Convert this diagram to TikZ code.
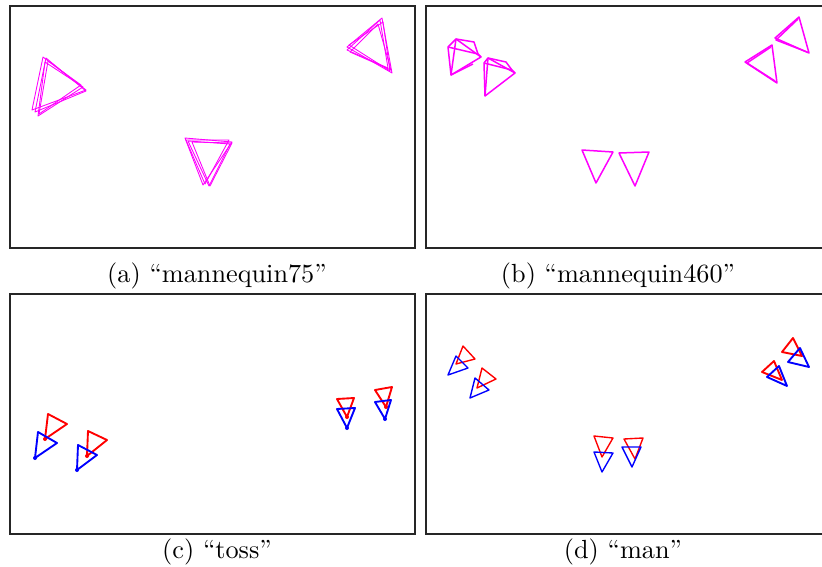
\documentclass[tikz,border=0pt]{standalone}
\usepackage{tikz}
\usetikzlibrary{positioning}
\definecolor{poseMag}{RGB}{255,0,255}
\definecolor{poseRed}{RGB}{255,0,0}
\definecolor{poseBlue}{RGB}{0,0,255}

\begin{document}
\begin{tikzpicture}[
    x=0.4pt, y=-0.4pt,
    font=\fontsize{10.5}{12}\selectfont,
    panel/.style={draw=black!85, line width=0.55pt},
    thincam/.style={draw=poseMag, line width=0.35pt, line join=round},
    camb/.style={draw=poseMag, line width=0.6pt, line join=round},
    truecam/.style={draw=poseBlue, line width=0.75pt, line join=round},
    estcam/.style={draw=poseRed, line width=0.75pt, line join=round},
    centre/.style={circle, fill, inner sep=0pt, minimum size=1.6pt},
    subcap/.style={inner sep=0pt, anchor=center}
]
\clip (0,0) rectangle (822,567);
\fill[white] (0,0) rectangle (822,567);

% frames
\draw[panel] (10,6) rectangle (415,248);
\draw[panel] (426,6) rectangle (840,248);
\draw[panel] (10,294) rectangle (415,534);
\draw[panel] (426,294) rectangle (840,534);

% (a) mannequin75
\draw[thincam] (43,57) -- (86,90) -- (32,110) -- cycle;
\draw[thincam] (46,58) -- (86,91) -- (35,112) -- cycle;
\draw[thincam] (45,62) -- (83,87) -- (38,116) -- cycle;
\draw[thincam] (48,61) -- (81,85) -- (39,114) -- cycle;
\draw[thincam] (382,18) -- (347,47) -- (392,73) -- cycle;
\draw[thincam] (380,20) -- (347,50) -- (388,68) -- cycle;
\draw[thincam] (383,22) -- (349,45) -- (390,71) -- cycle;
\draw[thincam] (378,24) -- (350,52) -- (391,70) -- cycle;
\draw[thincam] (185,138) -- (232,142) -- (203,185) -- cycle;
\draw[thincam] (188,141) -- (230,144) -- (209,186) -- cycle;
\draw[thincam] (186,140) -- (229,140) -- (205,184) -- cycle;
\draw[thincam] (192,142) -- (232,143) -- (210,186) -- cycle;

% (b) mannequin460
\draw[camb] (456,39) -- (448,47) -- (451,75) -- (481,57) -- cycle;
\draw[camb] (456,39) -- (474,42) -- (478,54) -- (481,57);
\draw[camb] (448,47) -- (478,54);
\draw[camb] (456,39) -- (451,75);
\draw[camb] (451,75) -- (473,64);
\draw[camb] (488,58) -- (484,63) -- (485,96) -- (515,73) -- cycle;
\draw[camb] (488,58) -- (506,62) -- (512,70) -- (515,73);
\draw[camb] (484,63) -- (512,70);
\draw[camb] (488,58) -- (485,96);
\draw[camb] (799,17) -- (775,38) -- (809,53) -- cycle;
\draw[camb] (798,19) -- (776,40) -- (807,52);
\draw[camb] (772,45) -- (745,62) -- (777,83) -- cycle;
\draw[camb] (771,47) -- (747,63) -- (775,81);
\draw[camb] (582,150) -- (613,152) -- (596,183) -- cycle;
\draw[camb] (619,153) -- (649,152) -- (635,186) -- cycle;

% (c) toss
\draw[estcam] (48,414) -- (67,424) -- (45,439) -- cycle;
\node[centre, poseRed] (c1r) at (45,439) {};
\draw[truecam] (38,432) -- (57,443) -- (35,458) -- cycle;
\node[centre, poseBlue] (c1b) at (35,458) {};
\draw[estcam] (88,431) -- (107,440) -- (87,456) -- cycle;
\node[centre, poseRed] (c2r) at (87,456) {};
\draw[truecam] (78,445) -- (97,455) -- (77,470) -- cycle;
\node[centre, poseBlue] (c2b) at (77,470) {};
\draw[estcam] (337,399) -- (354,398) -- (347,417) -- cycle;
\node[centre, poseRed] (c3r) at (347,417) {};
\draw[truecam] (337,409) -- (355,408) -- (347,428) -- cycle;
\node[centre, poseBlue] (c3b) at (347,428) {};
\draw[estcam] (375,390) -- (392,387) -- (386,407) -- cycle;
\node[centre, poseRed] (c4r) at (386,407) {};
\draw[truecam] (375,402) -- (391,400) -- (385,419) -- cycle;
\node[centre, poseBlue] (c4b) at (385,419) {};

% (d) man
\draw[estcam, line width=0.55pt] (463,346) -- (475,359) -- (456,364) -- cycle;
\draw[truecam, line width=0.55pt] (456,356) -- (468,368) -- (448,375) -- cycle;
\draw[estcam, line width=0.55pt] (482,368) -- (496,379) -- (477,388) -- cycle;
\draw[truecam, line width=0.55pt] (475,378) -- (489,390) -- (470,398) -- cycle;
\draw[estcam, line width=0.55pt] (594,436) -- (613,438) -- (602,457) -- cycle;
\draw[truecam, line width=0.55pt] (594,452) -- (613,453) -- (602,472) -- cycle;
\draw[estcam, line width=0.55pt] (624,439) -- (643,438) -- (635,459) -- cycle;
\draw[truecam, line width=0.55pt] (622,447) -- (641,447) -- (632,467) -- cycle;
\draw[estcam] (793,338) -- (782,352) -- (802,356) -- cycle;
\draw[truecam] (800,348) -- (788,362) -- (809,367) -- cycle;
\draw[estcam] (774,361) -- (762,372) -- (782,380) -- cycle;
\draw[truecam] (779,366) -- (767,377) -- (787,386) -- cycle;

% captions
\node[subcap] (capa) at (217,276) {(a)~``mannequin75''};
\node[subcap] (capb) at (618,276) {(b)~``mannequin460''};
\node[subcap] (capc) at (217,552) {(c)~``toss''};
\node[subcap] (capd) at (623,552) {(d)~``man''};
\end{tikzpicture}
\end{document}
